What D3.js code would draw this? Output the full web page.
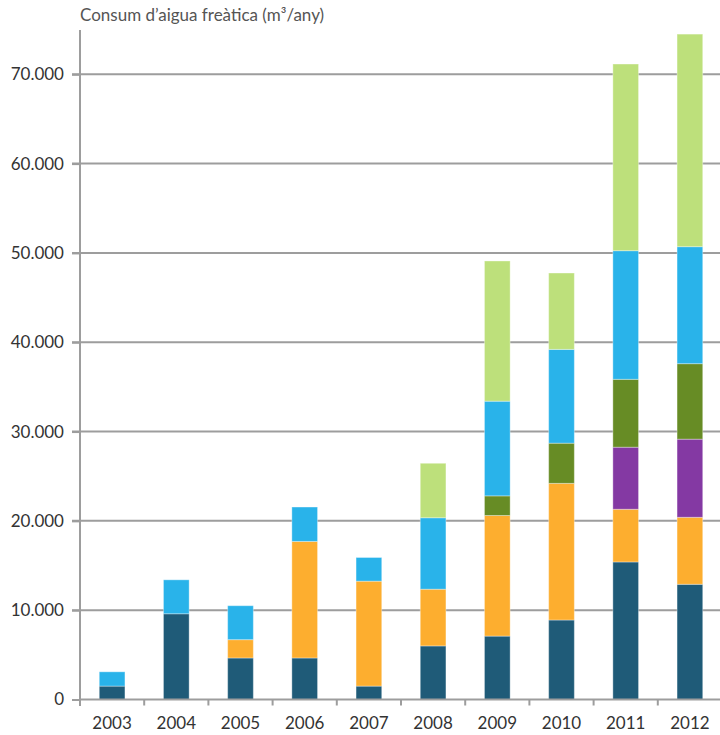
<!DOCTYPE html>
<html lang="ca">
<head>
<meta charset="utf-8">
<title>Consum d'aigua freàtica</title>
<script src="https://cdnjs.cloudflare.com/ajax/libs/d3/7.8.5/d3.min.js"></script>
<style>
  body { margin: 0; background: #fff; }
  text { font-family: Lato, "Open Sans", sans-serif; }
</style>
</head>
<body>
<div id="chart"></div>
<script>
// data (m3/any), stacked bottom to top
var years = ["2003", "2004", "2005", "2006", "2007", "2008", "2009", "2010", "2011", "2012"];
var s1 = [1500, 9600, 4650, 4650, 1500, 6000, 7100, 8900, 15400, 12900];
var s2 = [0, 0, 2050, 13050, 11750, 6350, 13500, 15300, 5900, 7500];
var s3 = [0, 0, 0, 0, 0, 0, 0, 0, 6950, 8750];
var s4 = [0, 0, 0, 0, 0, 0, 2200, 4500, 7600, 8450];
var s5 = [1600, 3800, 3800, 3850, 2650, 8000, 10600, 10500, 14400, 13100];
var s6 = [0, 0, 0, 0, 0, 6100, 15700, 8550, 20900, 23800];
var yTicks = [0, 10000, 20000, 30000, 40000, 50000, 60000, 70000];
var colors = ["#1f5b78", "#fdae2f", "#8439a3", "#678c25", "#29b3ea", "#bde07b"];

var width = 720, height = 735;
var margin = {top: 30, right: 0, bottom: 35, left: 80};

var keys = ["s1", "s2", "s3", "s4", "s5", "s6"];
var series = [s1, s2, s3, s4, s5, s6];
var rows = years.map(function(y, i) {
  var r = {year: y};
  keys.forEach(function(k, j) { r[k] = series[j][i]; });
  return r;
});
var stacked = d3.stack().keys(keys)(rows);

var svg = d3.select("#chart").append("svg")
  .attr("width", width)
  .attr("height", height);

var x = d3.scaleBand()
  .domain(years)
  .range([margin.left, margin.left + 642])
  .paddingInner(0.6)
  .paddingOuter(0.3);

var y = d3.scaleLinear()
  .domain([0, 70000])
  .range([699.5, 74.3]);

// gridlines
svg.append("g")
  .selectAll("line")
  .data(yTicks.slice(1))
  .enter().append("line")
    .attr("x1", margin.left - 8)
    .attr("x2", width)
    .attr("y1", function(d) { return y(d); })
    .attr("y2", function(d) { return y(d); })
    .attr("stroke", "#9d9d9d")
    .attr("stroke-width", 2);

// bars
svg.append("g")
  .selectAll("g")
  .data(stacked)
  .enter().append("g")
    .attr("fill", function(d, i) { return colors[i]; })
  .selectAll("rect")
  .data(function(d) { return d.filter(function(p) { return p[1] - p[0] > 0; }); })
  .enter().append("rect")
    .attr("x", function(d) { return x(d.data.year); })
    .attr("width", x.bandwidth())
    .attr("y", function(d) { return y(d[1]); })
    .attr("height", function(d) { return y(d[0]) - y(d[1]); })
    .attr("stroke", "#ffffff")
    .attr("stroke-opacity", 0.35)
    .attr("stroke-width", 1);

// y axis
var fmt = function(d) { return d3.format(",")(d).replace(/,/g, "."); };
var yAxis = svg.append("g")
  .attr("transform", "translate(" + margin.left + ",0)")
  .call(d3.axisLeft(y).tickValues(yTicks).tickSize(8).tickPadding(8).tickFormat(fmt));
yAxis.select(".domain").remove();
yAxis.selectAll(".tick line").attr("stroke", "#9d9d9d").attr("stroke-width", 2);
yAxis.selectAll("text").attr("fill", "#333").attr("font-size", 17);
svg.append("line")
  .attr("x1", margin.left).attr("x2", margin.left)
  .attr("y1", 30).attr("y2", 706)
  .attr("stroke", "#9d9d9d").attr("stroke-width", 2);

// x axis: baseline, ticks between bands, year labels
svg.append("line")
  .attr("x1", margin.left).attr("x2", width)
  .attr("y1", y(0)).attr("y2", y(0))
  .attr("stroke", "#9d9d9d").attr("stroke-width", 2);
var gap = (x.step() - x.bandwidth()) / 2;
svg.append("g")
  .selectAll("line")
  .data(years.slice(1))
  .enter().append("line")
    .attr("x1", function(d) { return x(d) - gap; })
    .attr("x2", function(d) { return x(d) - gap; })
    .attr("y1", y(0))
    .attr("y2", y(0) + 6)
    .attr("stroke", "#9d9d9d")
    .attr("stroke-width", 2);
svg.append("g")
  .selectAll("text")
  .data(years)
  .enter().append("text")
    .attr("x", function(d) { return x(d) + x.bandwidth() / 2; })
    .attr("y", 729)
    .attr("text-anchor", "middle")
    .attr("fill", "#333")
    .attr("font-size", 17)
    .text(function(d) { return d; });

// title
svg.append("text")
  .attr("x", 80)
  .attr("y", 21)
  .attr("fill", "#555")
  .attr("font-size", 17)
  .text("Consum d’aigua freàtica (m³/any)");
</script>
</body>
</html>
